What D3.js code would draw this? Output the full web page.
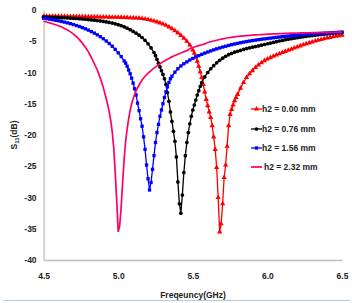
<!DOCTYPE html>
<html>
<head>
<meta charset="utf-8">
<script src="https://cdn.jsdelivr.net/npm/d3@7"></script>
<style>
  body { margin: 0; background: #fff; }
  text { font-family: "Liberation Sans", Arial, sans-serif; }
</style>
</head>
<body>
<div id="container"></div>
<script>
/***** data: [frequency GHz, S11 dB] *****/
const h000 = [[4.50,-1.00],[4.52,-1.00],[4.54,-1.00],[4.56,-1.00],[4.58,-1.01],[4.60,-1.01],[4.62,-1.02],[4.64,-1.02],[4.66,-1.03],[4.68,-1.03],[4.70,-1.04],[4.72,-1.04],[4.74,-1.05],[4.76,-1.05],[4.78,-1.06],[4.80,-1.07],[4.82,-1.08],[4.84,-1.09],[4.86,-1.10],[4.88,-1.11],[4.90,-1.12],[4.92,-1.13],[4.94,-1.14],[4.96,-1.15],[4.98,-1.16],[5.00,-1.17],[5.02,-1.18],[5.04,-1.20],[5.06,-1.22],[5.08,-1.24],[5.10,-1.26],[5.12,-1.28],[5.14,-1.30],[5.16,-1.36],[5.18,-1.44],[5.20,-1.53],[5.22,-1.64],[5.24,-1.76],[5.26,-1.90],[5.28,-2.06],[5.30,-2.24],[5.32,-2.45],[5.34,-2.70],[5.36,-2.98],[5.38,-3.30],[5.40,-3.66],[5.42,-4.06],[5.44,-4.50],[5.46,-5.00],[5.48,-5.60],[5.50,-6.40],[5.51,-6.90],[5.52,-7.50],[5.53,-8.20],[5.54,-9.00],[5.55,-9.90],[5.56,-10.8],[5.57,-11.9],[5.58,-13.1],[5.59,-14.3],[5.60,-15.3],[5.61,-16.3],[5.62,-17.2],[5.63,-18.5],[5.64,-20.3],[5.65,-22.3],[5.66,-25.2],[5.67,-30.0],[5.68,-35.5],[5.69,-34.2],[5.70,-31.0],[5.71,-26.8],[5.72,-24.8],[5.73,-21.8],[5.74,-18.5],[5.75,-16.7],[5.76,-15.9],[5.77,-15.2],[5.78,-14.5],[5.79,-14.0],[5.80,-13.5],[5.82,-12.5],[5.84,-11.6],[5.86,-10.8],[5.88,-10.2],[5.90,-9.70],[5.92,-9.20],[5.94,-8.80],[5.96,-8.45],[5.98,-8.10],[6.00,-7.85],[6.02,-7.62],[6.04,-7.40],[6.06,-7.20],[6.08,-7.00],[6.10,-6.81],[6.12,-6.62],[6.14,-6.44],[6.16,-6.26],[6.18,-6.08],[6.20,-5.91],[6.22,-5.74],[6.24,-5.57],[6.26,-5.41],[6.28,-5.26],[6.30,-5.11],[6.32,-4.97],[6.34,-4.84],[6.36,-4.71],[6.38,-4.59],[6.40,-4.48],[6.42,-4.38],[6.44,-4.28],[6.46,-4.19],[6.48,-4.10],[6.50,-4.02]];

const h076 = [[4.50,-1.10],[4.52,-1.12],[4.54,-1.14],[4.56,-1.16],[4.58,-1.18],[4.60,-1.20],[4.62,-1.22],[4.64,-1.24],[4.66,-1.27],[4.68,-1.30],[4.70,-1.33],[4.72,-1.36],[4.74,-1.40],[4.76,-1.44],[4.78,-1.48],[4.80,-1.53],[4.82,-1.58],[4.84,-1.63],[4.86,-1.69],[4.88,-1.75],[4.90,-1.82],[4.92,-1.90],[4.94,-1.99],[4.96,-2.09],[4.98,-2.21],[5.00,-2.35],[5.02,-2.51],[5.04,-2.69],[5.06,-2.90],[5.08,-3.14],[5.10,-3.42],[5.12,-3.70],[5.14,-4.02],[5.16,-4.40],[5.18,-4.85],[5.20,-5.40],[5.22,-6.05],[5.24,-6.80],[5.25,-7.30],[5.26,-7.90],[5.27,-8.50],[5.28,-9.10],[5.29,-9.70],[5.30,-10.3],[5.31,-11.0],[5.32,-11.9],[5.33,-13.2],[5.34,-14.6],[5.35,-16.3],[5.36,-17.8],[5.37,-19.4],[5.38,-21.0],[5.39,-23.5],[5.40,-27.5],[5.41,-31.0],[5.42,-32.5],[5.43,-29.6],[5.44,-26.0],[5.45,-23.3],[5.46,-21.2],[5.47,-19.6],[5.48,-18.2],[5.49,-17.0],[5.50,-16.0],[5.51,-15.2],[5.52,-14.4],[5.53,-13.6],[5.54,-12.9],[5.55,-12.2],[5.56,-11.6],[5.58,-10.7],[5.60,-10.0],[5.62,-9.40],[5.64,-8.90],[5.66,-8.45],[5.68,-8.05],[5.70,-7.70],[5.72,-7.40],[5.74,-7.15],[5.76,-6.95],[5.78,-6.75],[5.80,-6.60],[5.82,-6.45],[5.84,-6.30],[5.86,-6.17],[5.88,-6.05],[5.90,-5.95],[5.92,-5.85],[5.94,-5.75],[5.96,-5.63],[5.98,-5.52],[6.00,-5.40],[6.02,-5.29],[6.04,-5.18],[6.06,-5.07],[6.08,-4.96],[6.10,-4.86],[6.12,-4.76],[6.14,-4.67],[6.16,-4.58],[6.18,-4.50],[6.20,-4.42],[6.22,-4.35],[6.24,-4.28],[6.26,-4.21],[6.28,-4.15],[6.30,-4.09],[6.32,-4.03],[6.34,-3.97],[6.36,-3.92],[6.38,-3.87],[6.40,-3.82],[6.42,-3.77],[6.44,-3.73],[6.46,-3.69],[6.48,-3.65],[6.50,-3.61]];

const h156 = [[4.50,-1.30],[4.52,-1.38],[4.54,-1.46],[4.56,-1.55],[4.58,-1.64],[4.60,-1.73],[4.62,-1.83],[4.64,-1.94],[4.66,-2.06],[4.68,-2.19],[4.70,-2.33],[4.72,-2.48],[4.74,-2.64],[4.76,-2.82],[4.78,-3.01],[4.80,-3.22],[4.82,-3.45],[4.84,-3.70],[4.86,-3.97],[4.88,-4.27],[4.90,-4.60],[4.92,-4.96],[4.94,-5.36],[4.96,-5.80],[4.98,-6.30],[5.00,-6.85],[5.02,-7.45],[5.04,-8.15],[5.05,-8.50],[5.06,-9.00],[5.07,-9.60],[5.08,-10.2],[5.09,-10.9],[5.10,-11.7],[5.11,-12.6],[5.12,-13.6],[5.13,-14.9],[5.14,-16.1],[5.15,-17.4],[5.16,-18.6],[5.17,-20.3],[5.18,-22.3],[5.19,-24.8],[5.20,-27.0],[5.21,-28.8],[5.22,-27.6],[5.23,-25.5],[5.24,-23.3],[5.25,-21.2],[5.26,-19.6],[5.27,-18.3],[5.28,-17.0],[5.29,-16.0],[5.30,-15.0],[5.31,-14.0],[5.32,-13.1],[5.33,-12.3],[5.34,-11.6],[5.35,-11.0],[5.36,-10.6],[5.38,-9.95],[5.40,-9.40],[5.42,-8.95],[5.44,-8.60],[5.46,-8.30],[5.48,-8.00],[5.50,-7.75],[5.52,-7.50],[5.54,-7.30],[5.56,-7.10],[5.58,-6.90],[5.60,-6.72],[5.62,-6.55],[5.64,-6.38],[5.66,-6.22],[5.68,-6.07],[5.70,-5.93],[5.72,-5.80],[5.74,-5.67],[5.76,-5.55],[5.78,-5.44],[5.80,-5.34],[5.82,-5.24],[5.84,-5.14],[5.86,-5.05],[5.88,-4.97],[5.90,-4.89],[5.92,-4.82],[5.94,-4.75],[5.96,-4.68],[5.98,-4.62],[6.00,-4.56],[6.02,-4.50],[6.04,-4.44],[6.06,-4.38],[6.08,-4.33],[6.10,-4.27],[6.12,-4.22],[6.14,-4.17],[6.16,-4.12],[6.18,-4.07],[6.20,-4.03],[6.22,-3.99],[6.24,-3.95],[6.26,-3.91],[6.28,-3.87],[6.30,-3.84],[6.32,-3.80],[6.34,-3.77],[6.36,-3.74],[6.38,-3.71],[6.40,-3.68],[6.42,-3.65],[6.44,-3.62],[6.46,-3.59],[6.48,-3.56],[6.50,-3.53]];

const h232 = [[4.50,-1.80],[4.52,-1.92],[4.54,-2.05],[4.56,-2.19],[4.58,-2.35],[4.60,-2.52],[4.62,-2.72],[4.64,-2.95],[4.66,-3.20],[4.68,-3.50],[4.70,-3.85],[4.72,-4.25],[4.74,-4.75],[4.76,-5.30],[4.78,-5.95],[4.80,-6.70],[4.82,-7.60],[4.84,-8.60],[4.86,-9.60],[4.88,-10.9],[4.90,-12.4],[4.91,-13.3],[4.92,-14.2],[4.93,-15.2],[4.94,-16.3],[4.95,-17.7],[4.96,-19.5],[4.97,-22.0],[4.98,-26.0],[4.99,-30.5],[5.00,-35.5],[5.01,-34.5],[5.02,-31.5],[5.03,-27.5],[5.04,-23.8],[5.05,-21.0],[5.06,-19.0],[5.07,-17.4],[5.08,-16.1],[5.09,-15.0],[5.10,-14.2],[5.12,-12.9],[5.14,-12.0],[5.16,-11.2],[5.18,-10.6],[5.20,-10.1],[5.22,-9.70],[5.24,-9.30],[5.26,-8.95],[5.28,-8.60],[5.30,-8.30],[5.32,-8.00],[5.34,-7.75],[5.36,-7.50],[5.38,-7.28],[5.40,-7.07],[5.42,-6.87],[5.44,-6.68],[5.46,-6.50],[5.48,-6.20],[5.50,-6.00],[5.52,-5.85],[5.54,-5.70],[5.56,-5.56],[5.58,-5.43],[5.60,-5.20],[5.62,-5.08],[5.64,-4.96],[5.66,-4.84],[5.68,-4.72],[5.70,-4.61],[5.72,-4.52],[5.74,-4.44],[5.76,-4.37],[5.78,-4.30],[5.80,-4.24],[5.82,-4.19],[5.84,-4.14],[5.86,-4.10],[5.88,-4.06],[5.90,-4.02],[5.92,-3.99],[5.94,-3.96],[5.96,-3.93],[5.98,-3.90],[6.00,-3.87],[6.02,-3.85],[6.04,-3.83],[6.06,-3.81],[6.08,-3.79],[6.10,-3.77],[6.12,-3.75],[6.14,-3.73],[6.16,-3.71],[6.18,-3.69],[6.20,-3.68],[6.22,-3.67],[6.24,-3.66],[6.26,-3.65],[6.28,-3.64],[6.30,-3.63],[6.32,-3.62],[6.34,-3.61],[6.36,-3.60],[6.38,-3.59],[6.40,-3.58],[6.42,-3.57],[6.44,-3.56],[6.46,-3.55],[6.48,-3.54],[6.50,-3.53]];

const seriesNames = ["h2 = 0.00 mm", "h2 = 0.76 mm", "h2 = 1.56 mm", "h2 = 2.32 mm"];
const xTicks = [4.5, 5.0, 5.5, 6.0, 6.5];
const yTicks = [0, -5, -10, -15, -20, -25, -30, -35, -40];

/***** chart *****/
var width = 352, height = 303;

var series = [
  {name: seriesNames[0], data: h000, color: "#ff0000", symbol: d3.symbolTriangle, size: 12},
  {name: seriesNames[1], data: h076, color: "#000000", symbol: d3.symbolCircle, size: 11},
  {name: seriesNames[2], data: h156, color: "#0000ff", symbol: d3.symbolSquare, size: 11},
  {name: seriesNames[3], data: h232, color: "#ff0066", symbol: null, size: 0}
];

var svg = d3.select("#container")
  .append("svg")
    .attr("width", width)
    .attr("height", height);

var x = d3.scaleLinear().domain([4.5, 6.5]).range([43.6, 342]);
var y = d3.scaleLinear().domain([-40, 0]).range([260, 10]);

// Y axis
var yAxis = svg.append("g")
  .attr("transform", "translate(43.6,0)")
  .call(d3.axisLeft(y).tickValues(yTicks).tickSize(0).tickPadding(7).tickFormat(d => d));
// X axis
var xAxis = svg.append("g")
  .attr("transform", "translate(0,260)")
  .call(d3.axisBottom(x).tickValues(xTicks).tickSize(0).tickPadding(13).tickFormat(d3.format(".1f")));

[xAxis, yAxis].forEach(function(g) {
  g.select(".domain").attr("stroke", "#bfbfbf").attr("stroke-width", 1.3);
  g.selectAll("text")
    .attr("font-size", 8.5)
    .attr("font-weight", "bold")
    .attr("fill", "#222");
});

// axis titles
svg.append("text")
  .attr("x", 193).attr("y", 298)
  .attr("text-anchor", "middle")
  .attr("font-size", 8.5).attr("font-weight", "bold").attr("fill", "#222")
  .text("Freqeuncy(GHz)");

var yt = svg.append("text")
  .attr("transform", "translate(17,135) rotate(-90)")
  .attr("text-anchor", "middle")
  .attr("font-size", 8.5).attr("font-weight", "bold").attr("fill", "#222");
yt.append("tspan").text("S");
yt.append("tspan").attr("font-size", 6).attr("dy", 2).text("11");
yt.append("tspan").attr("dy", -2).text("(dB)");

// lines and markers
var line = d3.line().x(d => x(d[0])).y(d => y(d[1]));

series.forEach(function(s) {
  svg.append("path")
    .datum(s.data)
    .attr("fill", "none")
    .attr("stroke", s.color)
    .attr("stroke-width", s.symbol ? 1.3 : 1.7)
    .attr("d", line);

  if (s.symbol) {
    svg.append("g").selectAll("path")
      .data(s.data)
      .join("path")
        .attr("transform", d => "translate(" + x(d[0]) + "," + y(d[1]) + ")")
        .attr("d", d3.symbol().type(s.symbol).size(s.size))
        .attr("fill", s.color);
  }
});

// legend
var legendY = [109, 129, 148, 167];
series.forEach(function(s, i) {
  var g = svg.append("g").attr("transform", "translate(251," + legendY[i] + ")");
  g.append("line")
    .attr("x1", 0).attr("x2", 11)
    .attr("stroke", s.color)
    .attr("stroke-width", s.symbol ? 1.3 : 1.7);
  if (s.symbol) {
    g.append("path")
      .attr("transform", "translate(5.5,0)")
      .attr("d", d3.symbol().type(s.symbol).size(s.size))
      .attr("fill", s.color);
  }
  g.append("text")
    .attr("x", s.symbol ? 11 : 13).attr("y", 3)
    .attr("font-size", 8.5).attr("font-weight", "bold").attr("fill", "#222")
    .text(s.name);
});

// bottom frame line
svg.append("line")
  .attr("x1", 3).attr("x2", 350)
  .attr("y1", 300.5).attr("y2", 300.5)
  .attr("stroke", "#b4c9e8").attr("stroke-width", 1);
</script>
</body>
</html>
